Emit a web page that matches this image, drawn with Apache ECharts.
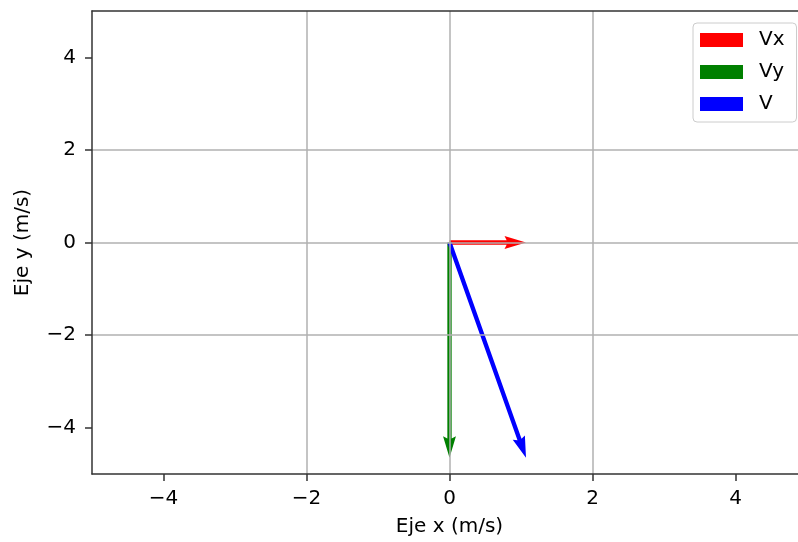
<!DOCTYPE html>
<html>
<head>
<meta charset="utf-8">
<script src="https://cdn.jsdelivr.net/npm/echarts@6/dist/echarts.min.js"></script>
<style>html,body{margin:0;padding:0;background:#fff;}#c{width:798px;height:542px;}</style>
</head>
<body>
<div id="c"></div>
<script>
// Vectors: origin and components (m/s)
var names = ['Vx', 'Vy', 'V'];
var colors = ['#ff0000', '#008000', '#0000ff'];
var originX = [0, 0, 0];
var originY = [0, 0, 0];
var compU = [1.07, 0, 1.07];
var compV = [0, -4.65, -4.65];
var tickValues = [-4, -2, 0, 2, 4];

var FONT = 'DejaVu Sans';
var FS = 20;

var chart = echarts.init(document.getElementById('c'));

function fmt(v) { return v < 0 ? '\u2212' + Math.abs(v) : String(v); }

function makeArrow(i) {
  return {
    name: names[i],
    type: 'custom',
    coordinateSystem: 'cartesian2d',
    itemStyle: { color: colors[i] },
    z: 2,
    data: [[originX[i], originY[i], originX[i] + compU[i], originY[i] + compV[i]]],
    renderItem: function (params, api) {
      var p0 = api.coord([api.value(0), api.value(1)]);
      var p1 = api.coord([api.value(2), api.value(3)]);
      var dx = p1[0] - p0[0], dy = p1[1] - p0[1];
      var L = Math.sqrt(dx * dx + dy * dy);
      var ux = dx / L, uy = dy / L, nx = -uy, ny = ux;
      var w = 4.3, hw = 3 * w, hl = 5 * w, hal = 4.5 * w;
      var local = [
        [0, -w / 2], [L - hal, -w / 2], [L - hl, -hw / 2], [L, 0],
        [L - hl, hw / 2], [L - hal, w / 2], [0, w / 2]
      ];
      var pts = local.map(function (q) {
        return [p0[0] + ux * q[0] + nx * q[1], p0[1] + uy * q[0] + ny * q[1]];
      });
      return {
        type: 'polygon',
        shape: { points: pts },
        style: { fill: colors[i], stroke: null }
      };
    }
  };
}

function makeAxis(name, gap, margin) {
  return {
    type: 'value',
    min: -5, max: 5, interval: 1,
    z: 5,
    name: name, nameGap: gap, nameLocation: 'middle',
    nameTextStyle: { color: '#000', fontFamily: FONT, fontSize: FS },
    axisLine: { show: true, onZero: false, lineStyle: { color: '#333', width: 1.5 } },
    axisTick: { show: true, inside: false, length: 7, customValues: tickValues,
      lineStyle: { color: '#333', width: 1.5 } },
    splitLine: { show: true, showMinLine: false, showMaxLine: false,
      lineStyle: { color: '#b0b0b0', width: 1.5 } },
    axisLabel: {
      color: '#000', fontFamily: FONT, fontSize: FS, margin: margin, customValues: tickValues,
      formatter: function (v) { return fmt(v); }
    }
  };
}

var topAxis = {
  type: 'value', position: 'top', min: -5, max: 5, z: 5,
  axisLine: { show: true, onZero: false, lineStyle: { color: '#333', width: 1.5 } },
  axisTick: { show: false }, axisLabel: { show: false }, splitLine: { show: false }
};

var option = {
  animation: false,
  backgroundColor: '#fff',
  grid: { left: 92, top: 11, width: 715, height: 463, containLabel: false, outerBoundsMode: 'none' },
  xAxis: [makeAxis('Eje x (m/s)', 43, 15), topAxis],
  yAxis: makeAxis('Eje y (m/s)', 59, 16),
  legend: {
    orient: 'vertical',
    left: 693, top: 23,
    padding: [7, 12, 8, 7],
    itemWidth: 43, itemHeight: 14, itemGap: 12,
    icon: 'rect',
    backgroundColor: 'rgba(255,255,255,0.85)',
    borderColor: '#cccccc', borderWidth: 1, borderRadius: 4,
    textStyle: { color: '#000', fontFamily: FONT, fontSize: FS, padding: [0, 0, 0, 11] },
    data: names
  },
  series: [makeArrow(0), makeArrow(1), makeArrow(2)]
};
chart.setOption(option);
</script>
</body>
</html>
